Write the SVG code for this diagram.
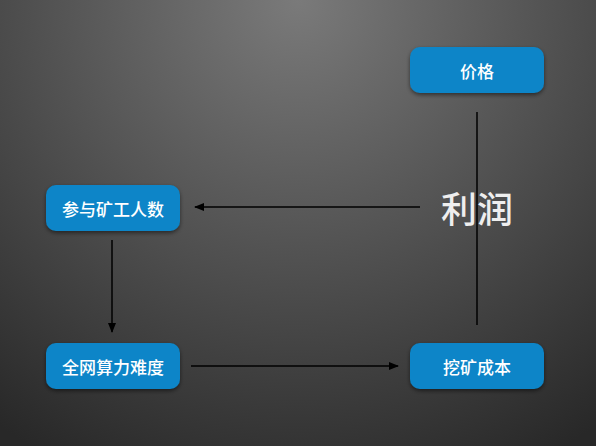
<svg xmlns="http://www.w3.org/2000/svg" width="596" height="446" viewBox="0 0 596 446">
<defs>
<radialGradient id="bg" cx="298" cy="0" r="520" gradientUnits="userSpaceOnUse">
<stop offset="0" stop-color="#7a7a7a"/>
<stop offset="1" stop-color="#282828"/>
</radialGradient>
<filter id="sh" x="-20%" y="-20%" width="140%" height="160%">
<feGaussianBlur in="SourceAlpha" stdDeviation="2"/>
<feOffset dy="2"/>
<feComponentTransfer><feFuncA type="linear" slope="0.5"/></feComponentTransfer>
<feMerge><feMergeNode/><feMergeNode in="SourceGraphic"/></feMerge>
</filter>
<marker id="ah" viewBox="0 0 10 10" refX="9" refY="5" markerWidth="10" markerHeight="10" markerUnits="userSpaceOnUse" orient="auto">
<path d="M0,1 L10,5 L0,9 Z" fill="#000"/>
</marker>
<style>
.box{fill:#0a85c8;filter:url(#sh);}
.lbl{font-family:"Noto Sans CJK SC","Liberation Sans",sans-serif;font-size:17px;font-weight:500;fill:#fff;text-anchor:middle;dominant-baseline:central;}
.ln{stroke:#000;stroke-width:1.5;fill:none;}
</style>
</defs>
<rect width="596" height="446" fill="url(#bg)"/>
<g id="connectors">
<line class="ln" x1="420" y1="207" x2="195" y2="207" marker-end="url(#ah)"/>
<line class="ln" x1="112" y1="240" x2="112" y2="332" marker-end="url(#ah)"/>
<line class="ln" x1="191" y1="366" x2="398" y2="366" marker-end="url(#ah)"/>
<line class="ln" x1="477" y1="112" x2="477" y2="325"/>
<text x="477" y="207" font-family="Noto Sans CJK SC, sans-serif" font-size="36" font-weight="500" fill="#eeeeee" text-anchor="middle" dominant-baseline="central">利润</text>
</g>
<g id="price"><rect class="box" x="410" y="47" width="134" height="46" rx="10"/><text class="lbl" x="477" y="70">价格</text></g>
<g id="miners"><rect class="box" x="46" y="185" width="134" height="46" rx="10"/><text class="lbl" x="113" y="208">参与矿工人数</text></g>
<g id="difficulty"><rect class="box" x="46" y="343" width="134" height="46" rx="10"/><text class="lbl" x="113" y="366">全网算力难度</text></g>
<g id="cost"><rect class="box" x="410" y="343" width="134" height="46" rx="10"/><text class="lbl" x="477" y="366">挖矿成本</text></g>
</svg>
